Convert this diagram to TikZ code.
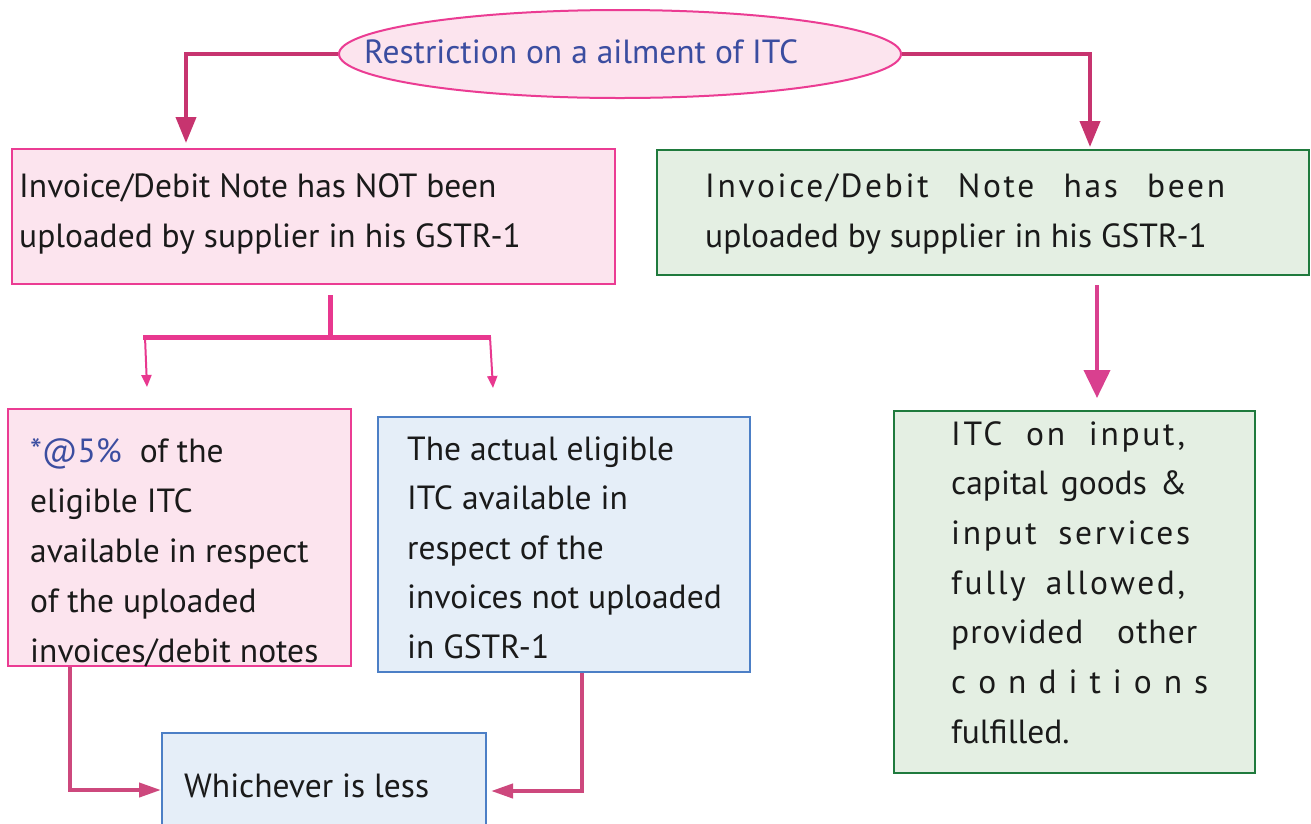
\documentclass[tikz,border=0pt]{standalone}
\usepackage{fontspec}
\setmainfont{PT Sans}
\newfontfamily\spacedfont[LetterSpace=8]{PT Sans}
\newfontfamily\lightspaced[LetterSpace=3]{PT Sans}
\usetikzlibrary{arrows.meta,shapes.geometric}

\definecolor{pinkfill}{HTML}{FCE4EE}
\definecolor{pinkline}{HTML}{EB3C93}
\definecolor{linkc}{HTML}{C7346F}
\definecolor{barc}{HTML}{E8388F}
\definecolor{bigc}{HTML}{D9408F}
\definecolor{greenfill}{HTML}{E4EFE3}
\definecolor{greenline}{HTML}{1F7A3D}
\definecolor{bluefill}{HTML}{E5EEF8}
\definecolor{blueline}{HTML}{4C7FC6}
\definecolor{titleblue}{HTML}{3B4DA0}
\definecolor{ink}{HTML}{1A1A1A}

\newcommand\mainsize{\fontsize{33.5}{40}\selectfont}

\tikzset{
  box/.style={draw, line width=2pt, anchor=north west, inner sep=0pt},
  pinkbox/.style={box, draw=pinkline, fill=pinkfill},
  greenbox/.style={box, draw=greenline, fill=greenfill},
  bluebox/.style={box, draw=blueline, fill=bluefill},
  txt/.style={anchor=base west, inner sep=0pt, font=\mainsize, text=ink},
  link/.style={draw=linkc, line width=4pt, -{Triangle[length=26pt,width=20pt]}},
  lowlink/.style={draw=linkc!90, line width=4pt, -{Triangle[length=22pt,width=14pt]}},
  bar/.style={draw=barc, line width=5pt},
  thin/.style={draw=barc, line width=2pt, -{Triangle[length=12pt,width=10pt]}},
  bigarrow/.style={draw=bigc, line width=4pt, -{Triangle[length=28pt,width=26pt]}}
}

\begin{document}
\begin{tikzpicture}[x=1pt,y=-1pt]
\useasboundingbox[fill=white] (0,0) rectangle (1311,823);

% top oval
\node[ellipse, draw=pinkline, fill=pinkfill, line width=2pt,
      minimum width=562pt, minimum height=88pt] (top) at (620,54) {};
\node[txt, text=titleblue] (toptxt) at (364,63) {Restriction on a ailment of ITC};

% first level boxes
\node[pinkbox, minimum width=603pt, minimum height=135pt] (nb) at (11,148) {};
\node[txt] (nb1) at (19,197) {Invoice/Debit Note has NOT been};
\node[txt] (nb2) at (19,247) {uploaded by supplier in his GSTR-1};

\node[greenbox, minimum width=652pt, minimum height=125pt] (yb) at (656,149) {};
\node[txt] (yb1) at (705,197) {\makebox[520pt][s]{\spacedfont Invoice/Debit Note has been}};
\node[txt] (yb2) at (705,247) {uploaded by supplier in his GSTR-1};

% second level, left branch
\node[pinkbox, minimum width=343pt, minimum height=257pt] (p2) at (7,408) {};
\node[txt] (p2a) at (30,462) {\textcolor{titleblue}{*@5\%}\hspace{18pt}of the};
\foreach \s [count=\i] in {eligible ITC, available in respect, of the uploaded, invoices/debit notes}
  \node[txt] (p2t\i) at (30,{462+50*\i}) {\s};

\node[bluebox, minimum width=372pt, minimum height=255pt] (bl) at (377,416) {};
\foreach \s [count=\i from 0] in {The actual eligible, ITC available in, respect of the, invoices not uploaded, in GSTR-1}
  \node[txt] (blt\i) at (407,{460+49.5*\i}) {\s};

\node[bluebox, minimum width=324pt, minimum height=130pt] (w) at (161,732) {};
\node[txt] (wt) at (184,797) {Whichever is less};

% second level, right branch
\node[greenbox, minimum width=361pt, minimum height=362pt] (g2) at (893,410) {};
\node[txt] (g2t0) at (951,445) {\makebox[234pt][s]{\spacedfont ITC on input,}};
\node[txt] (g2t1) at (951,494) {\makebox[236pt][s]{capital goods \&}};
\node[txt] (g2t2) at (951,544) {\makebox[239pt][s]{\spacedfont input services}};
\node[txt] (g2t3) at (951,594) {\makebox[234pt][s]{\spacedfont fully allowed,}};
\node[txt] (g2t4) at (951,643) {\makebox[246pt][s]{\lightspaced provided other}};
\node[txt] (g2t5) at (951,693) {\makebox[257pt][s]{c o n d i t i o n s}};
\node[txt] (g2t6) at (951,743) {fulfilled.};

% connectors from the oval
\draw[link] (top.west) -| ([xshift=175pt,yshift=5pt]nb.north west);
\draw[link] (top.east) -| ([xshift=434pt,yshift=2pt]yb.north west);

% split under the left box
\coordinate (barTop) at ([xshift=319pt,yshift=-10pt]nb.south west);
\coordinate (barMid) at (330,337);
\coordinate (barL) at (143,337);
\coordinate (barR) at (491,337);
\coordinate (tipL) at (147,387);
\coordinate (tipR) at (493,388);
\draw[bar] (barTop) -- (barMid);
\draw[bar] (barL) -- (barR);
\draw[thin] ([xshift=2pt]barL) -- (tipL);
\draw[thin] ([xshift=-1pt]barR) -- (tipR);

% big arrow on the right
\draw[bigarrow] ([xshift=441pt,yshift=-9pt]yb.south west) -- ([xshift=204pt,yshift=12pt]g2.north west);

% both left boxes lead to the last box
\draw[lowlink] ([xshift=63pt]p2.south west) |- ([yshift=-58pt]w.north west);
\draw[lowlink] ([xshift=205pt]bl.south west) |- ([xshift=4pt,yshift=-59pt]w.north east);
\end{tikzpicture}
\end{document}
